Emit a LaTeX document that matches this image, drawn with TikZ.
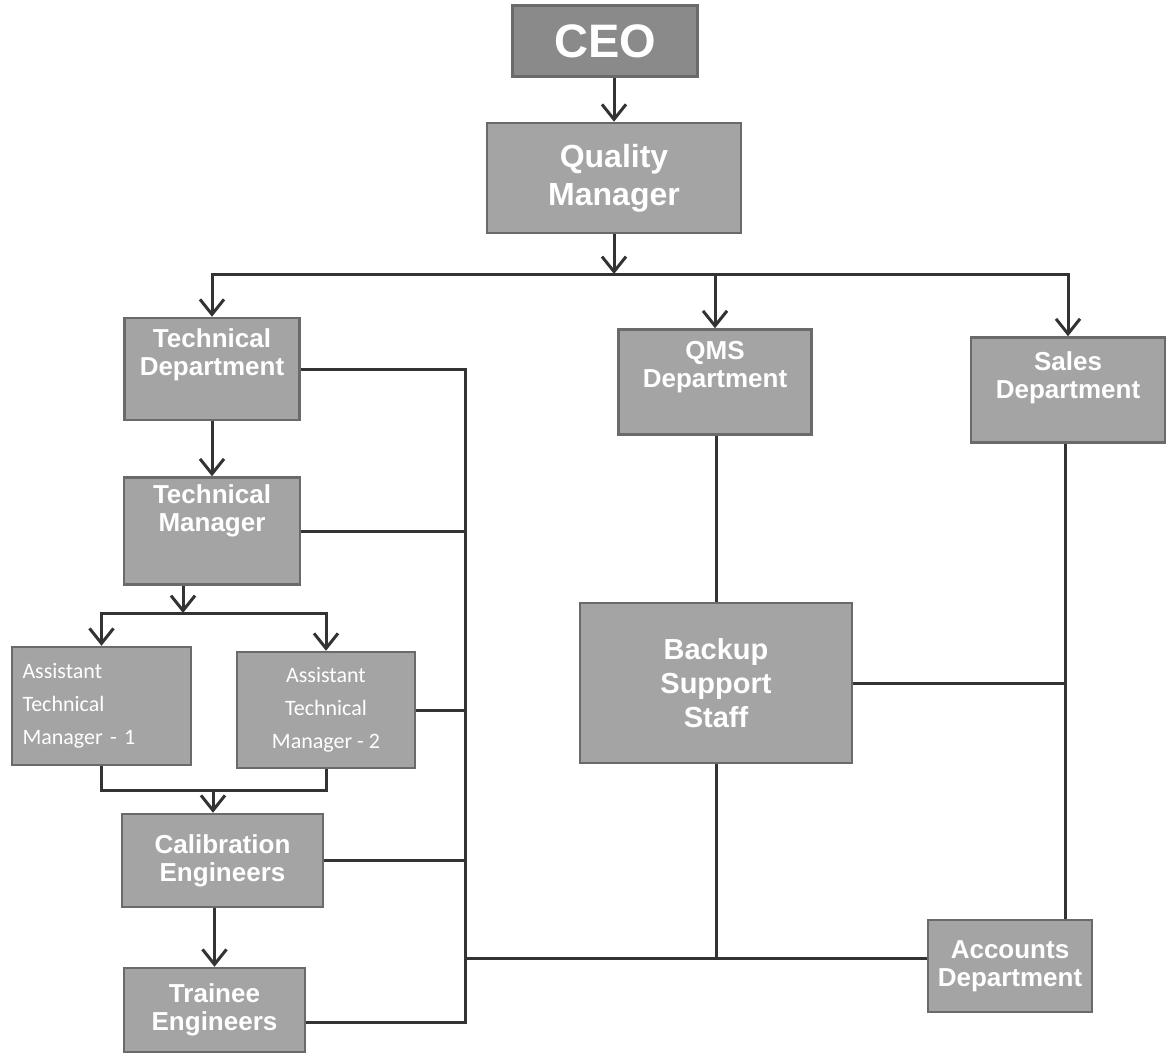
\documentclass[tikz,border=0pt]{standalone}
\usepackage{fontspec}
\setmainfont{Liberation Sans}
\newfontfamily\calfont{Carlito}
\usetikzlibrary{arrows.meta}
\definecolor{boxfill}{HTML}{A4A4A4}
\definecolor{boxedge}{HTML}{6A6A6A}
\definecolor{ceofill}{HTML}{8A8A8A}
\definecolor{linec}{HTML}{333333}
\begin{document}
\begin{tikzpicture}[x=1pt,y=-1pt,
  >={Straight Barb[length=15pt,width=24pt]},
  orgbox/.style={draw=boxedge, line width=2.5pt, fill=boxfill, text=white, align=center, inner sep=0pt,
    font=\bfseries\fontsize{26}{28}\selectfont},
  atmbox/.style={orgbox, font=\calfont\fontsize{22}{33}\selectfont},
  conn/.style={draw=linec, line width=3pt, line join=miter},
  arr/.style={conn, ->}]
\useasboundingbox[fill=white] (0,0) rectangle (1175,1061);

% nodes
\node[orgbox, fill=ceofill, minimum width=185pt, minimum height=71pt, font=\bfseries\fontsize{47}{47}\selectfont] (ceo) at (605,41) {CEO};
\node[orgbox, minimum width=254pt, minimum height=110pt, font=\bfseries\fontsize{32}{38}\selectfont] (qm) at (614,178) {Quality\\Manager};
\node[orgbox, minimum width=175pt, minimum height=102pt] (td) at (212,369) {Technical\\Department\\[5.5pt]\mbox{}};
\node[orgbox, minimum width=193pt, minimum height=105pt] (qms) at (715,382) {QMS\\Department\\[7.5pt]\mbox{}};
\node[orgbox, minimum width=194pt, minimum height=105pt] (sales) at (1068,390) {Sales\\Department\\[1.5pt]\mbox{}};
\node[orgbox, minimum width=176pt, minimum height=107pt] (tm) at (212,531) {Technical\\Manager\\[17pt]\mbox{}};
\node[atmbox, align=left, text width=158pt, minimum width=179pt, minimum height=118pt] (atm1) at (101.5,706) {Assistant\\Technical\\Manager - 1};
\node[atmbox, minimum width=178pt, minimum height=116pt] (atm2) at (326,710) {Assistant\\Technical\\Manager - 2};
\node[orgbox, minimum width=201pt, minimum height=93pt] (calib) at (222.5,860.5) {Calibration\\Engineers};
\node[orgbox, minimum width=181pt, minimum height=84pt] (trainee) at (214.5,1010) {Trainee\\Engineers};
\node[orgbox, minimum width=272pt, minimum height=160pt, font=\bfseries\fontsize{29}{34}\selectfont] (backup) at (716,683) {Backup\\Support\\Staff};
\node[orgbox, minimum width=164pt, minimum height=92pt] (acc) at (1010,966) {Accounts\\Department};

% helper coordinates
\coordinate (busA) at (0,274);
\coordinate (busB) at (0,613);
\coordinate (busC) at (0,790);
\coordinate (trunk) at (465,0);
\coordinate (trl) at (0,1022);
\coordinate (accl) at (0,958);
\coordinate (rt) at (1065,0);
\coordinate (tmout) at (183,0);
\coordinate (calin) at (213,0);

% top level
\draw[arr] (ceo.south -| qm.north) -- (qm.north);
\draw[arr] (qm.south) -- (qm.south |- busA);
\draw[conn,<->] (td.north) -- (td.north |- busA) -- (sales.north |- busA) -- (sales.north);
\draw[arr] (qms.north |- busA) -- (qms.north);

% technical branch
\draw[arr] (td.south) -- (tm.north);
\draw[arr] (tm.south -| tmout) -- (tmout |- busB);
\draw[conn,<->] (atm1.north) -- (atm1.north |- busB) -- (atm2.north |- busB) -- (atm2.north);
\draw[conn] (atm1.south) -- (atm1.south |- busC) -- (atm2.south |- busC) -- (atm2.south);
\draw[arr] (calin |- busC) -- (calib.north -| calin);
\draw[arr] (calib.south -| trainee.north) -- (trainee.north);

% trunk on the right of technical branch
\draw[conn] (td.east) -- (td.east -| trunk) -- (trunk |- trl) -- (trainee.east |- trl);
\draw[conn] (tm.east) -- (tm.east -| trunk);
\draw[conn] (atm2.east) -- (atm2.east -| trunk);
\draw[conn] (calib.east) -- (calib.east -| trunk);
\draw[conn] (trunk |- accl) -- (acc.west |- accl);

% QMS, backup, sales, accounts
\draw[conn] (qms.south -| backup.north) -- (backup.north);
\draw[conn] (sales.south -| rt) -- (acc.north -| rt);
\draw[conn] (backup.east) -- (backup.east -| rt);
\draw[conn] (backup.south) -- (backup.south |- accl);
\end{tikzpicture}
\end{document}
